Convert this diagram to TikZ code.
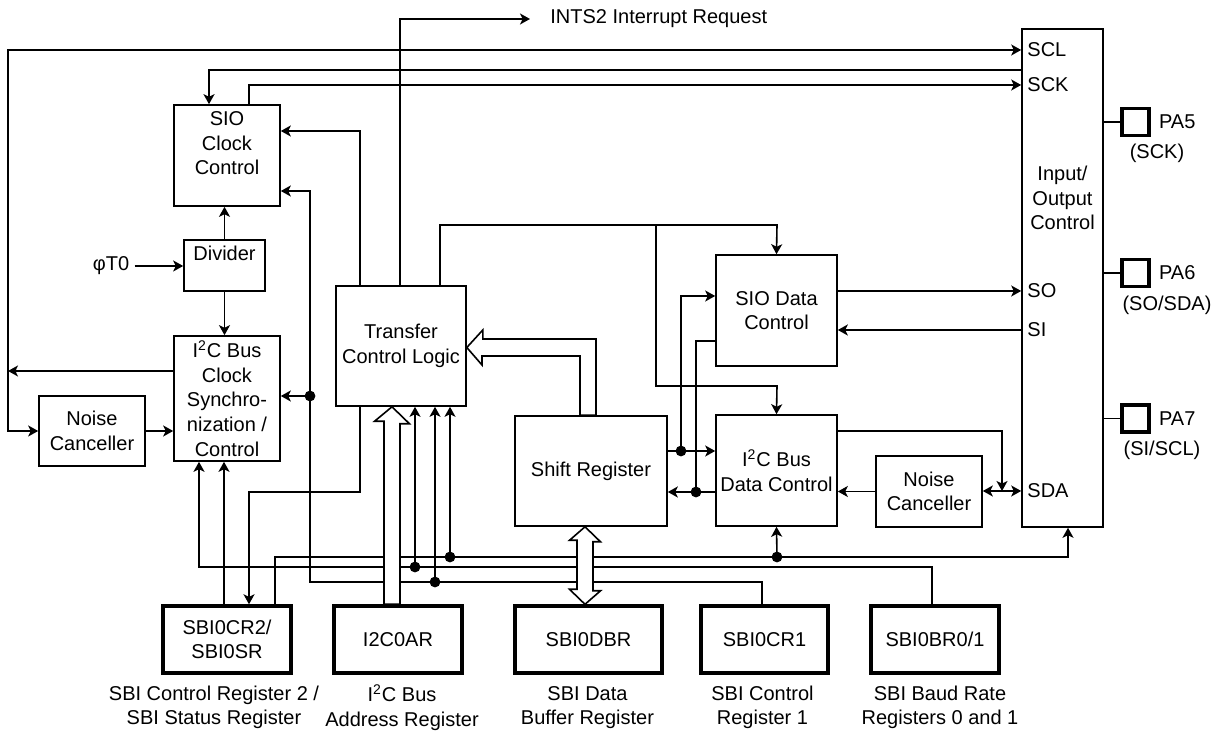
\documentclass[tikz,border=0pt]{standalone}
\usepackage{fontspec}
\setmainfont{Liberation Sans}
\usetikzlibrary{arrows.meta, positioning}

\begin{document}
\begin{tikzpicture}[
    x=0.5pt, y=-0.5pt,
    every node/.style={font=\fontsize{10}{12.3}\selectfont},
    blk/.style={draw, line width=0.8pt, align=center, inner sep=0pt},
    reg/.style={blk, line width=1.7pt, minimum width=64pt, minimum height=33.5pt},
    pin/.style={draw, line width=1.7pt, minimum size=13.5pt, inner sep=0pt},
    capt/.style={align=center, inner sep=0pt},
    lbl/.style={inner sep=0pt},
    wire/.style={line width=0.8pt},
    arr/.style={wire, -{Stealth[length=5pt, width=5.5pt, inset=1.3pt]}},
    arrb/.style={wire, {Stealth[length=5pt, width=5.5pt, inset=1.3pt]}-{Stealth[length=5pt, width=5.5pt, inset=1.3pt]}},
    hollow/.style={draw, fill=white, line width=0.8pt, line join=miter},
  ]
  \useasboundingbox (0,0) rectangle (1221,731);

  % blocks
  \node[blk, minimum width=53pt, minimum height=50.5pt] (sioclk) at (227,155.5) {SIO\\Clock\\Control\\\mbox{}};
  \node[blk, minimum width=40.5pt, minimum height=25.5pt] (divider) at (224.5,265.5) {Divider\\\mbox{}};
  \node[blk, minimum width=53pt, minimum height=62.5pt] (i2cclk) at (227,398.5) {I\textsuperscript{2}C Bus\\Clock\\Synchro-\\nization /\\Control};
  \node[blk, minimum width=53pt, minimum height=35pt] (ncl) at (92,431) {Noise\\Canceller};
  \node[blk, minimum width=65pt, minimum height=60pt] (tcl) at (401,346) {Transfer\\Control Logic};
  \node[blk, minimum width=76pt, minimum height=55pt] (shreg) at (591,471) {Shift Register};
  \node[blk, minimum width=60.5pt, minimum height=55.5pt] (siodat) at (776.5,310.5) {SIO Data\\Control};
  \node[blk, minimum width=60.5pt, minimum height=55.5pt] (i2cdat) at (776.5,470.5) {I\textsuperscript{2}C Bus\\Data Control};
  \node[blk, minimum width=53pt, minimum height=35.5pt] (ncr) at (929,491.5) {Noise\\Canceller};
  \node[blk, minimum width=40.5pt, minimum height=249pt] (io) at (1062.5,278) {};
  \node[capt] (iolbl) at (1062.5,198) {Input/\\Output\\Control};

  % port names
  \node[lbl, anchor=west] (pscl) at (1027,50) {SCL};
  \node[lbl, anchor=west] (psck) at (1027,85) {SCK};
  \node[lbl, anchor=west] (pso) at (1027,291) {SO};
  \node[lbl, anchor=west] (psi) at (1027,330) {SI};
  \node[lbl, anchor=west] (psda) at (1027,491) {SDA};

  % pins
  \node[pin] (pa5) at (1135.5,122) {};
  \node[lbl, right=4pt of pa5] (pa5l) {PA5};
  \node[lbl] (pa5s) at (1157,153) {(SCK)};
  \node[pin] (pa6) at (1135.5,273) {};
  \node[lbl, right=4pt of pa6] (pa6l) {PA6};
  \node[lbl] (pa6s) at (1167,305) {(SO/SDA)};
  \node[pin] (pa7) at (1135.5,418.5) {};
  \node[lbl, right=4pt of pa7] (pa7l) {PA7};
  \node[lbl] (pa7s) at (1162,450) {(SI/SCL)};
  \draw[wire] (io.east |- pa5) -- (pa5);
  \draw[wire] (io.east |- pa6) -- (pa6);
  \draw[wire] (io.east |- pa7) -- (pa7);

  % registers
  \node[reg] (sbicr2) at (227,639.5) {SBI0CR2/\\SBI0SR};
  \node[reg] (i2car) at (398,639.5) {I2C0AR};
  \node[reg, minimum width=73.5pt] (sbidbr) at (588.5,639.5) {SBI0DBR};
  \node[reg, minimum width=63.5pt] (sbicr1) at (764.5,639.5) {SBI0CR1};
  \node[reg] (sbibr) at (935,639.5) {SBI0BR0/1};
  \node[capt] (capcr2) at (214,707.5) {SBI Control Register 2 /\\SBI Status Register};
  \node[capt] (capar) at (402,707.5) {I\textsuperscript{2}C Bus\\Address Register};
  \node[capt] (capdbr) at (587.5,707.5) {SBI Data\\Buffer Register};
  \node[capt] (capcr1) at (762.5,707.5) {SBI Control\\Register 1};
  \node[capt] (capbr) at (940,707.5) {SBI Baud Rate\\Registers 0 and 1};

  \node[lbl, inner xsep=2.5pt] (phi) at (111,266) {φT0};
  \node[lbl, anchor=west, inner xsep=10pt] (ints) at (530,19) {INTS2 Interrupt Request};

  % clock side
  \draw[arr] (phi) -- (divider.west |- phi);
  \draw[arr] (divider.north) -- (divider.north |- sioclk.south);
  \draw[arr] (divider.south) -- (divider.south |- i2cclk.north);
  \draw[arrb] (ncl.west) -| (8,50) -- (io.west |- pscl);
  \draw[arr] (i2cclk.west |- 0,371) -- (8,371);
  \draw[arr] (ncl.east) -- (ncl.east -| i2cclk.west);
  \draw[arr] (io.west |- 0,70) -| (sioclk.north -| 209,0);
  \draw[arr] (sioclk.north -| 249,0) |- (io.west |- psck);
  \draw[arr] (tcl.north -| 360,0) |- (sioclk.east |- 0,131);
  \draw[arr] (tcl.north -| 400,0) |- (ints.west);

  % transfer control to data blocks
  \draw[arr] (tcl.north -| 440,0) |- (777,225) -- (siodat.north);
  \draw[arr] (656,225) |- (777,386) -- (i2cdat.north);

  % data path
  \draw[arr] (shreg.east |- 0,451) -- (i2cdat.west |- 0,451);
  \draw[arr] (681,451) |- (siodat.west |- 0,296);
  \draw[arr] (i2cdat.west |- 0,492) -- (shreg.east |- 0,492);
  \draw[wire] (siodat.west |- 0,341) -| (696,492);
  \draw[arr] (siodat.east |- pso) -- (io.west |- pso);
  \draw[arr] (io.west |- psi) -- (siodat.east |- psi);
  \draw[arr] (i2cdat.east |- 0,431) -| (1002,491);
  \draw[arrb] (ncr.east |- psda) -- (io.west |- psda);
  \draw[arr] (ncr.west) -- (ncr.west -| i2cdat.east);

  % register buses
  \draw[arr] (sbicr1.north -| 762,0) |- (310,582) -- (310,191) -- (sioclk.east |- 0,191);
  \draw[arr] (310,396) -- (i2cclk.east |- 0,396);
  \draw[arr] (435,582) -- (tcl.south -| 435,0);
  \draw[arr] (sbibr.north -| 932,0) |- (199,567) -- (i2cclk.south -| 199,0);
  \draw[arr] (415,567) -- (tcl.south -| 415,0);
  \draw[arr] (sbicr2.north -| 275,0) |- (1068,557) -- (io.south -| 1068,0);
  \draw[arr] (450,557) -- (tcl.south -| 450,0);
  \draw[arr] (777,557) -- (i2cdat.south);
  \draw[arr] (sbicr2.north -| 224,0) -- (i2cclk.south -| 224,0);
  \draw[arr] (tcl.south -| 360,0) |- (249,492) -- (sbicr2.north -| 249,0);
  \foreach \p in {(310,396),(435,582),(415,567),(450,557),(777,557),(681,451),(696,492)}
    \fill \p circle[radius=2.7pt];

  % wide buses
  \draw[hollow] (tcl.south -| 392,0) -- ++(17.5,17) -- ++(-9.5,0) -- (i2car.north -| 400,0)
    -- (i2car.north -| 384,0) -- ++(0,-183) -- ++(-9.5,0) -- cycle;
  \draw[hollow] (shreg.south -| 585,0) -- ++(15.5,15) -- ++(-7.5,0) -- ++(0,49) -- ++(7.5,0)
    -- (sbidbr.north -| 585,0) -- ++(-15.5,-15) -- ++(7.5,0) -- ++(0,-49) -- ++(-7.5,0) -- cycle;
  \draw[hollow] (tcl.east |- 0,347.5) -- ++(16,-17.5) -- ++(0,9) -- (596,339) -- (shreg.north -| 596,0)
    -- (shreg.north -| 580,0) -- (580,356) -- (482,356) -- ++(0,9) -- cycle;
\end{tikzpicture}
\end{document}
